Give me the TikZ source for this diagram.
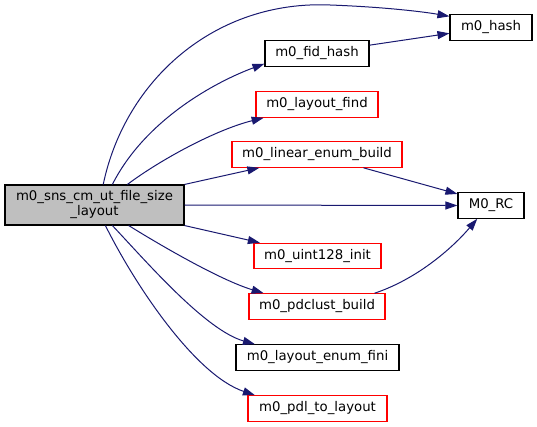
\documentclass[tikz,border=0pt]{standalone}
\usepackage{fontspec}
\setmainfont{DejaVu Sans}
\usepackage{tikz}
\usetikzlibrary{arrows.meta,positioning}
\usepackage{xcolor}
\definecolor{edgeblue}{HTML}{191970}
\definecolor{nodegray}{HTML}{BFBFBF}

\begin{document}
\begin{tikzpicture}[
        x=1pt, y=1pt,
        box/.style={draw, line width=1.1pt, minimum height=25.5pt, inner sep=0pt, align=center, font=\fontsize{13.3}{15}\selectfont},
        redbox/.style={box, draw=red},
        call/.style={-{Triangle[length=12pt,width=8pt]}, draw=edgeblue, line width=1pt}
    ]
    \useasboundingbox (0,0) rectangle (537,-427);
    \node[box, fill=nodegray, minimum width=179pt, minimum height=40pt] (main) at (94.5,-205) {m0\_sns\_cm\_ut\_file\_size\\ \_layout};
    \node[box, minimum width=82pt] (hash) at (491,-27.5) {m0\_hash};
    \node[box, minimum width=104pt] (fidhash) at (317,-53.5) {m0\_fid\_hash};
    \node[redbox, minimum width=122pt] (find) at (317,-104.5) {m0\_layout\_find};
    \node[redbox, minimum width=170pt] (linear) at (317,-154.5) {m0\_linear\_enum\_build};
    \node[box, minimum width=66pt] (rc) at (491,-205.5) {M0\_RC};
    \node[redbox, minimum width=127pt] (uint) at (317.5,-256) {m0\_uint128\_init};
    \node[redbox, minimum width=136pt] (pdclust) at (317,-306.5) {m0\_pdclust\_build};
    \node[box, minimum width=163pt] (fini) at (317.5,-357.5) {m0\_layout\_enum\_fini};
    \node[redbox, minimum width=139pt] (pdl) at (317.5,-408.5) {m0\_pdl\_to\_layout};

    \draw[call] (main.67) .. controls (125,-80) and (215,0) .. (330,-5) .. controls (385,-7) and (425,-12) .. (hash.165);
    \draw[call] (fidhash.9) -- (hash.188);
    \draw[call] (main.49) .. controls (145,-120) and (215,-82) .. (fidhash.191);
    \draw[call] (main.32) .. controls (160,-160) and (215,-130) .. (find.194);
    \draw[call] (main.north east) -- (linear.193);
    \draw[call] (linear.344) -- (rc.161);
    \draw[call] (main.east) -- (rc.west);
    \draw[call] (main.south east) -- (uint.167);
    \draw[call] (pdclust.13) .. controls (420,-278) and (455,-245) .. (rc.224);
    \draw[call] (main.-31) .. controls (160,-245) and (220,-280) .. (pdclust.166);
    \draw[call] (main.-49) .. controls (145,-260) and (205,-330) .. (fini.168);
    \draw[call] (main.-62) .. controls (135,-285) and (195,-375) .. (pdl.168);
\end{tikzpicture}
\end{document}
